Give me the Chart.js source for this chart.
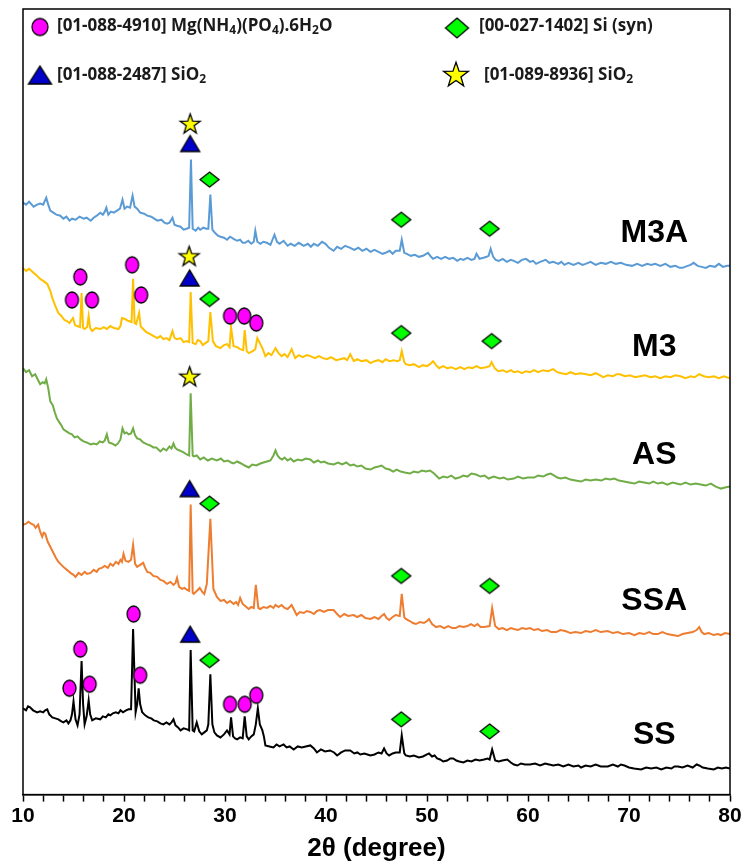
<!DOCTYPE html>
<html>
<head>
<meta charset="utf-8">
<script src="https://cdn.jsdelivr.net/npm/chart.js@4.4.1/dist/chart.umd.min.js"></script>
<style>
  body { margin: 0; background: #fff; }
  #wrap { width: 744px; height: 868px; }
</style>
</head>
<body>
<div id="wrap"><canvas id="xrd"></canvas></div>
<script>
// [2-theta, offset intensity (a.u.)] for each sample
const m3aPattern = [[10,590],[10.3,588],[10.6,591],[11.05,586],[11.4,588],[11.7,589],[12.0,588],[12.3,595],[12.5,588],[12.7,582],[13.0,580],[13.3,578],[13.7,577],[14.0,574],[14.3,576],[14.6,572],[14.85,574],[15.2,573],[15.6,576],[16.0,574],[16.3,575],[16.7,572],[17.0,575],[17.3,577],[17.65,580],[17.9,578],[18.1,581],[18.25,585],[18.45,578],[18.7,581],[19.0,580],[19.3,582],[19.6,584],[19.85,593],[20.05,584],[20.3,586],[20.6,585],[20.85,597],[21.05,586],[21.3,584],[21.6,580],[22.0,579],[22.3,577],[22.7,576],[23.0,574],[23.3,572],[23.7,573],[24.0,570],[24.25,569],[24.5,570],[24.8,575],[25.0,568],[25.25,567],[25.6,566],[25.9,563],[26.2,564],[26.45,565],[26.63,633],[26.8,564],[27.1,562],[27.35,565],[27.55,563],[27.85,565],[28.15,564],[28.35,564],[28.55,598],[28.75,563],[29.0,560],[29.3,557],[29.55,556],[29.9,555],[30.2,553],[30.5,556],[30.85,554],[31.2,552],[31.5,553],[31.75,550],[32.0,550],[32.3,552],[32.6,549],[32.85,551],[33.0,562],[33.2,551],[33.5,549],[33.8,551],[34.15,550],[34.5,548],[34.9,558],[35.15,551],[35.4,549],[35.8,552],[36.2,547],[36.5,549],[36.9,547],[37.3,550],[37.8,547],[38.2,549],[38.5,546],[38.8,549],[39.2,547],[39.6,551],[39.95,549],[40.3,545],[40.75,542],[41.1,546],[41.5,544],[41.9,547],[42.4,545],[42.8,543],[43.2,545],[43.6,542],[44.0,544],[44.4,541],[44.8,543],[45.2,541],[45.6,539],[45.9,540],[46.3,542],[46.6,539],[46.9,542],[47.3,542],[47.5,553],[47.75,540],[48.0,539],[48.4,537],[48.8,538],[49.2,536],[49.6,537],[50.1,540],[50.4,536],[50.6,534],[51.0,536],[51.4,534],[51.8,536],[52.2,534],[52.6,535],[53.0,532],[53.3,534],[53.6,533],[54.0,535],[54.4,533],[54.7,534],[54.9,539],[55.2,534],[55.6,535],[55.9,536],[56.1,537],[56.3,544],[56.55,536],[56.8,533],[57.1,532],[57.5,534],[57.9,531],[58.3,533],[58.6,532],[59.0,530],[59.4,533],[59.8,534],[60.2,531],[60.5,532],[60.8,529],[61.2,531],[61.75,533],[62.1,530],[62.5,531],[63.0,529],[63.3,531],[63.6,528],[64.0,530],[64.5,528],[65.0,530],[65.4,528],[65.7,529],[66.2,531],[66.7,528],[67.2,530],[67.7,529],[68.2,531],[68.7,529],[69.2,530],[69.7,528],[70.3,527],[70.8,529],[71.3,527],[71.8,529],[72.2,528],[72.6,529],[73.1,527],[73.6,529],[74.1,526],[74.6,527],[75.0,525],[75.3,525],[75.8,527],[76.1,528],[76.4,530],[76.8,527],[77.2,526],[77.6,525],[78.0,527],[78.5,526],[78.9,529],[79.3,526],[79.7,527],[80,527]];

const m3Pattern = [[10,525],[10.3,522],[10.6,524],[11.05,520],[11.3,518],[11.7,514],[12.0,512],[12.4,509],[12.7,502],[12.9,495],[13.2,487],[13.5,480],[13.8,477],[14.1,473],[14.35,472],[14.6,470],[14.95,475],[15.15,468],[15.35,467],[15.65,466],[15.8,500],[15.95,465],[16.1,464],[16.35,466],[16.5,477],[16.65,465],[16.85,462],[17.2,465],[17.65,464],[18.0,466],[18.3,464],[18.65,467],[19.0,465],[19.45,464],[19.65,467],[19.8,475],[20.1,474],[20.45,472],[20.75,471],[20.9,514],[21.05,470],[21.2,469],[21.5,480],[21.65,467],[21.8,465],[22.2,461],[22.6,459],[22.95,457],[23.3,455],[23.6,457],[23.9,454],[24.2,455],[24.5,453],[24.8,462],[25.0,455],[25.25,454],[25.6,455],[25.9,451],[26.2,452],[26.45,451],[26.6,501],[26.8,450],[27.1,449],[27.3,453],[27.55,452],[27.8,448],[28.05,450],[28.35,452],[28.55,481],[28.8,452],[29.1,447],[29.55,445],[29.9,448],[30.2,449],[30.45,446],[30.6,466],[30.85,447],[31.2,446],[31.5,444],[31.8,443],[31.95,463],[32.15,442],[32.35,440],[32.75,442],[33.0,444],[33.2,455],[33.45,450],[33.7,445],[34.0,437],[34.3,440],[34.6,438],[35.0,445],[35.3,440],[35.6,437],[35.9,439],[36.2,436],[36.6,444],[36.95,435],[37.3,438],[37.7,436],[38.1,438],[38.45,437],[38.9,435],[39.3,437],[39.7,435],[40.1,434],[40.5,436],[41.0,433],[41.4,434],[41.8,435],[42.1,433],[42.4,439],[42.75,432],[43.1,434],[43.5,432],[44.0,433],[44.4,430],[44.8,432],[45.2,433],[45.6,431],[45.9,434],[46.3,432],[46.7,433],[47.05,432],[47.3,433],[47.5,442],[47.75,431],[47.9,429],[48.3,428],[48.7,429],[49.2,426],[49.6,428],[50.0,427],[50.3,429],[50.6,432],[50.9,428],[51.2,425],[51.6,427],[52.0,425],[52.4,426],[52.85,424],[53.3,426],[53.7,424],[54.1,426],[54.5,425],[54.9,427],[55.3,425],[55.85,426],[56.2,427],[56.4,431],[56.7,425],[57.05,422],[57.5,423],[57.9,421],[58.3,423],[58.6,421],[59.0,422],[59.4,420],[59.8,422],[60.2,421],[60.6,423],[61.0,421],[61.5,423],[62.0,422],[62.5,424],[62.9,421],[63.3,420],[63.8,419],[64.2,421],[64.7,419],[65.2,420],[65.75,419],[66.2,418],[66.7,420],[67.1,418],[67.45,416],[67.9,418],[68.4,417],[68.8,419],[69.1,419],[69.6,417],[70.1,418],[70.6,416],[71.1,417],[71.6,418],[72.1,416],[72.6,417],[73.1,415],[73.6,417],[74.1,416],[74.6,418],[75.1,417],[75.6,415],[76.1,417],[76.5,416],[76.95,419],[77.4,417],[77.9,416],[78.4,417],[78.9,415],[79.4,417],[80,415]];

const asPattern = [[10,425],[10.3,421],[10.6,423],[10.9,417],[11.2,419],[11.5,413],[11.7,409],[11.95,411],[12.15,410],[12.3,414],[12.5,405],[12.7,392],[12.95,388],[13.15,381],[13.35,375],[13.6,371],[13.8,368],[14.0,364],[14.3,362],[14.6,360],[14.85,359],[15.1,356],[15.4,357],[15.7,354],[16.0,352],[16.3,351],[16.7,349],[17.0,350],[17.3,349],[17.6,352],[17.9,351],[18.1,353],[18.3,359],[18.5,351],[18.8,350],[19.15,348],[19.4,350],[19.65,354],[19.85,365],[20.05,360],[20.25,361],[20.45,359],[20.7,360],[20.9,365],[21.1,358],[21.3,355],[21.6,354],[21.9,351],[22.3,349],[22.6,348],[22.9,346],[23.2,346],[23.6,342],[23.9,345],[24.2,343],[24.5,347],[24.7,345],[24.9,350],[25.05,346],[25.25,344],[25.5,343],[25.9,341],[26.2,339],[26.45,338],[26.6,400],[26.8,338],[26.9,337],[27.2,338],[27.55,334],[27.9,336],[28.3,333],[28.7,335],[29.2,333],[29.6,335],[29.9,332],[30.3,333],[30.6,331],[30.85,330],[31.2,332],[31.6,330],[31.95,328],[32.35,326],[32.7,329],[33.1,328],[33.5,330],[33.8,331],[34.15,332],[34.5,333],[34.8,338],[35.0,343],[35.2,338],[35.45,335],[35.65,334],[35.9,336],[36.2,333],[36.5,335],[36.8,332],[37.2,334],[37.6,333],[38.0,335],[38.45,334],[38.8,331],[39.2,333],[39.5,331],[39.8,332],[40.2,330],[40.75,329],[41.2,331],[41.6,329],[42.0,331],[42.4,328],[42.75,329],[43.1,327],[43.5,328],[43.9,325],[44.4,324],[44.8,326],[45.2,327],[45.5,328],[45.9,325],[46.3,324],[46.65,322],[47.0,324],[47.4,322],[47.8,321],[48.3,320],[48.7,322],[49.1,321],[49.5,323],[49.9,322],[50.3,323],[50.7,320],[51.0,317],[51.2,315],[51.6,317],[52.0,316],[52.4,318],[52.8,315],[53.2,316],[53.6,318],[54.0,317],[54.4,320],[54.85,319],[55.3,317],[55.7,318],[56.1,315],[56.6,317],[57.2,315],[57.6,316],[58.0,314],[58.6,315],[59.0,317],[59.5,315],[60.0,316],[60.6,316],[61.0,318],[61.5,317],[61.9,319],[62.25,320],[62.6,318],[62.9,316],[63.25,315],[63.7,316],[64.2,314],[64.7,313],[65.25,312],[65.7,314],[66.2,313],[66.7,314],[67.25,313],[67.7,315],[68.1,314],[68.55,315],[69.0,313],[69.5,312],[70.0,311],[70.55,310],[71.0,312],[71.5,311],[72.0,310],[72.4,312],[72.85,310],[73.3,311],[73.8,309],[74.3,311],[74.7,310],[75.1,309],[75.6,311],[76.1,309],[76.6,310],[77.1,309],[77.6,308],[78.1,310],[78.6,307],[79.1,305],[79.5,306],[80,307]];

const ssaPattern = [[10,269],[10.3,270],[10.55,272],[10.8,270],[11.05,269],[11.25,266],[11.5,269],[11.7,262],[11.9,257],[12.05,261],[12.2,260],[12.45,252],[12.7,247],[13.0,241],[13.25,236],[13.5,232],[13.8,229],[14.1,226],[14.35,224],[14.7,221],[15.0,219],[15.2,217],[15.5,221],[15.8,219],[16.1,222],[16.35,220],[16.7,221],[17.0,224],[17.3,222],[17.5,225],[17.8,226],[18.1,228],[18.4,226],[18.65,230],[18.9,228],[19.2,232],[19.45,230],[19.65,234],[19.8,232],[19.95,240],[20.15,233],[20.45,232],[20.7,234],[20.9,249],[21.1,230],[21.3,227],[21.6,229],[21.9,231],[22.1,226],[22.3,222],[22.6,221],[22.9,218],[23.3,217],[23.6,214],[23.9,213],[24.25,210],[24.6,212],[24.9,209],[25.1,211],[25.25,216],[25.45,207],[25.75,205],[26.0,206],[26.25,204],[26.45,203],[26.6,289],[26.8,201],[26.9,200],[27.2,203],[27.5,206],[27.75,202],[27.95,200],[28.2,210],[28.55,275],[28.85,205],[29.2,197],[29.55,193],[29.9,194],[30.2,191],[30.5,193],[30.85,190],[31.1,192],[31.3,189],[31.5,196],[31.75,190],[32.0,188],[32.35,185],[32.6,187],[32.85,186],[33.05,209],[33.3,186],[33.5,185],[33.8,187],[34.15,186],[34.5,188],[34.8,186],[35.0,189],[35.3,187],[35.6,189],[35.9,186],[36.2,185],[36.6,189],[36.85,184],[37.1,179],[37.4,182],[37.8,181],[38.1,183],[38.45,182],[38.8,180],[39.1,183],[39.4,184],[39.8,182],[40.2,184],[40.75,184],[41.1,180],[41.4,177],[41.8,180],[42.2,178],[42.75,179],[43.1,177],[43.5,179],[43.9,176],[44.4,175],[44.8,177],[45.2,175],[45.5,178],[45.75,180],[46.0,176],[46.25,174],[46.6,177],[46.9,179],[47.3,178],[47.5,200],[47.75,177],[47.9,175],[48.3,173],[48.6,171],[48.9,170],[49.3,172],[49.7,171],[50.0,173],[50.2,175],[50.5,170],[50.9,167],[51.3,168],[51.7,166],[52.1,168],[52.5,166],[52.85,166],[53.2,168],[53.6,167],[54.0,168],[54.35,170],[54.7,168],[55.0,170],[55.3,167],[55.65,167],[56.2,168],[56.45,186],[56.75,168],[57.1,165],[57.5,166],[57.9,164],[58.3,166],[58.6,165],[59.0,164],[59.4,166],[59.8,165],[60.2,166],[60.6,164],[61.0,165],[61.4,163],[61.9,164],[62.3,162],[62.8,162],[63.2,164],[63.7,163],[64.2,161],[64.7,162],[65.25,161],[65.7,163],[66.2,162],[66.7,164],[67.2,162],[67.9,163],[68.4,161],[68.9,162],[69.4,160],[70.0,161],[70.55,159],[71.0,161],[71.5,160],[72.0,162],[72.4,160],[72.85,160],[73.3,162],[73.8,160],[74.3,159],[74.85,158],[75.3,160],[75.8,161],[76.3,162],[76.7,164],[76.95,167],[77.2,162],[77.45,160],[77.9,161],[78.4,159],[78.8,160],[79.1,159],[79.5,161],[80,160]];

const ssPattern = [[10,86],[10.3,84],[10.5,88],[10.7,87],[11.0,84],[11.4,82],[11.7,83],[12.0,82],[12.2,84],[12.4,85],[12.6,80],[12.9,77],[13.2,76],[13.5,75],[13.8,73],[14.0,72],[14.3,74],[14.5,71],[14.7,74],[14.85,80],[15.0,93],[15.2,75],[15.4,69],[15.6,80],[15.8,133],[15.95,90],[16.1,70],[16.3,78],[16.5,94],[16.65,80],[16.85,74],[17.2,76],[17.65,75],[17.9,78],[18.2,77],[18.45,80],[18.65,79],[18.9,81],[19.2,82],[19.45,81],[19.65,84],[19.9,82],[20.2,84],[20.45,85],[20.7,85],[20.9,165],[21.15,82],[21.3,90],[21.45,106],[21.6,90],[21.8,82],[22.1,79],[22.4,77],[22.7,76],[22.95,74],[23.3,73],[23.6,71],[23.9,70],[24.2,72],[24.5,70],[24.7,72],[24.9,75],[25.1,69],[25.35,67],[25.6,64],[25.9,66],[26.25,65],[26.45,64],[26.6,144],[26.8,64],[26.95,63],[27.2,72],[27.45,63],[27.7,60],[27.95,62],[28.2,64],[28.35,70],[28.55,120],[28.75,70],[28.95,62],[29.2,59],[29.55,57],[29.9,60],[30.2,64],[30.45,60],[30.6,77],[30.8,58],[31.0,56],[31.2,55],[31.5,57],[31.75,56],[31.95,78],[32.15,58],[32.35,55],[32.6,58],[32.85,60],[33.05,70],[33.25,86],[33.45,70],[33.7,64],[33.85,58],[34.0,49],[34.4,48],[34.8,47],[35.1,50],[35.4,48],[35.8,50],[36.1,47],[36.4,48],[36.8,45],[37.2,48],[37.6,47],[38.0,48],[38.45,49],[38.8,46],[39.1,42],[39.5,45],[39.9,43],[40.4,44],[40.8,42],[41.1,39],[41.5,42],[41.9,44],[42.4,44],[42.8,41],[43.1,42],[43.4,40],[43.8,41],[44.1,40],[44.4,39],[44.8,40],[45.2,42],[45.5,41],[45.75,46],[46.0,41],[46.25,39],[46.6,41],[46.9,42],[47.3,42],[47.5,59],[47.75,41],[47.9,39],[48.3,38],[48.7,39],[49.2,37],[49.6,38],[50.0,40],[50.2,41],[50.5,38],[50.75,39],[51.0,36],[51.3,35],[51.6,33],[52.0,34],[52.3,36],[52.6,36],[52.9,34],[53.2,33],[53.6,32],[54.0,34],[54.4,33],[54.8,35],[55.2,34],[55.65,35],[56.0,36],[56.2,35],[56.45,45],[56.75,34],[57.1,33],[57.45,34],[57.95,35],[58.3,32],[58.6,30],[58.95,29],[59.3,31],[59.7,30],[60.2,30],[60.7,31],[61.2,29],[61.7,31],[62.1,30],[62.5,29],[63.0,30],[63.5,28],[64.0,30],[64.5,28],[65.0,29],[65.25,27],[65.7,29],[66.2,28],[66.7,30],[67.2,28],[67.9,28],[68.4,30],[68.9,28],[69.2,30],[69.55,29],[70.0,27],[70.5,26],[71.2,25],[71.7,27],[72.2,26],[72.7,27],[73.2,25],[73.7,27],[74.2,26],[74.5,28],[74.85,28],[75.3,27],[75.8,29],[76.3,27],[76.7,30],[76.95,29],[77.3,27],[77.8,26],[78.4,25],[78.8,27],[79.2,26],[79.6,27],[80,26]];

// reference-pattern markers (2-theta, height in the same a.u.)
const circleTheta = [15.67, 14.85, 16.83, 20.8, 21.7, 30.5, 31.9, 33.1, 20.95, 15.67, 14.6, 16.6, 21.6, 30.5, 31.95, 33.1];
const circleLevel = [516, 493, 493, 528, 498, 477, 477, 470, 180, 145, 106, 110, 119, 90, 90, 99];
const triangleTheta = [26.55, 26.5, 26.5, 26.55];
const triangleLevel = [649, 515, 305, 160];
const diamondTheta = [28.47, 47.45, 56.2, 28.47, 47.45, 56.4, 28.47, 47.45, 56.2, 28.47, 47.45, 56.2];
const diamondLevel = [613, 573, 564, 494, 460, 452, 290, 218, 208, 134, 75, 63];
const starTheta = [26.55, 26.45, 26.5];
const starLevel = [669, 537, 417];

const sampleNames = ['M3A', 'M3', 'AS', 'SSA', 'SS'];
const sampleLevel = [560, 446, 338, 193, 59];
const sampleColors = ['#5B9BD5', '#FFC000', '#70AD47', '#ED7D31', '#000000'];

const legendLabels = ['[01-088-4910] Mg(NH_4)(PO_4).6H_2O', '[01-088-2487] SiO_2', '[00-027-1402] Si (syn)', '[01-089-8936] SiO_2'];

function makeMarker(kind, w, h, fill) {
    const c = document.createElement('canvas');
    c.width = w + 4;
    c.height = h + 4;
    const g = c.getContext('2d');
    g.translate(c.width / 2, c.height / 2);
    g.beginPath();
    if (kind === 'ellipse') {
        g.ellipse(0, 0, w / 2, h / 2, 0, 0, Math.PI * 2);
    } else if (kind === 'triangle') {
        g.moveTo(0, -h / 2); g.lineTo(w / 2, h / 2); g.lineTo(-w / 2, h / 2); g.closePath();
    } else if (kind === 'diamond') {
        g.moveTo(0, -h / 2); g.lineTo(w / 2, 0); g.lineTo(0, h / 2); g.lineTo(-w / 2, 0); g.closePath();
    } else {
        // five-point star
        for (let i = 0; i < 10; i++) {
            const r = i % 2 ? w * 0.2 : w / 2;
            const a = -Math.PI / 2 + i * Math.PI / 5;
            const px = r * Math.cos(a), py = r * Math.sin(a) + h * 0.05;
            i ? g.lineTo(px, py) : g.moveTo(px, py);
        }
        g.closePath();
    }
    g.fillStyle = fill;
    g.fill();
    g.lineWidth = 1.3;
    g.strokeStyle = '#000';
    g.stroke();
    return c;
}

const circleImg = makeMarker('ellipse', 13, 16, '#FF00FF');
const triImg = makeMarker('triangle', 19, 16, '#0000C8');
const diaImg = makeMarker('diamond', 19, 15, '#00FF00');
const starImg = makeMarker('star', 21, 21, '#FFFF00');

const legendImgs = [
    makeMarker('ellipse', 16, 17, '#FF00FF'),
    makeMarker('triangle', 23, 18, '#0000C8'),
    makeMarker('diamond', 23, 20, '#00FF00'),
    makeMarker('star', 26, 26, '#FFFF00')
];

function toPoints(xs, ys) {
    return xs.map((x, i) => ({ x: x, y: ys[i] }));
}

const traces = [m3aPattern, m3Pattern, asPattern, ssaPattern, ssPattern].map((p, i) => ({
    label: sampleNames[i],
    data: p.map(d => ({ x: d[0], y: d[1] })),
    showLine: true,
    borderColor: sampleColors[i],
    borderWidth: 2,
    pointRadius: 0,
    tension: 0,
    order: 2
}));

const markers = [
    [circleTheta, circleLevel, circleImg],
    [triangleTheta, triangleLevel, triImg],
    [diamondTheta, diamondLevel, diaImg],
    [starTheta, starLevel, starImg]
].map(m => ({
    data: toPoints(m[0], m[1]),
    showLine: false,
    pointStyle: m[2],
    pointRadius: 8,
    clip: false,
    order: 0
}));

// draws the box around the plot
const framePlugin = {
    id: 'frame',
    afterDraw(chart) {
        const { ctx, chartArea: a } = chart;
        ctx.save();
        ctx.strokeStyle = '#000';
        ctx.lineWidth = 1.5;
        ctx.strokeRect(a.left, a.top, a.right - a.left, a.bottom - a.top);
        ctx.restore();
    }
};

// text with subscripts written as _n
function drawRich(ctx, text, x, y) {
    const parts = text.split(/_(\d)/);
    parts.forEach((p, i) => {
        if (i % 2) {
            ctx.font = 'bold 12px "Open Sans"';
            ctx.fillText(p, x, y + 5);
        } else {
            ctx.font = 'bold 17px "Open Sans"';
            ctx.fillText(p, x, y);
        }
        x += ctx.measureText(p).width;
    });
}

const legendPlugin = {
    id: 'refLegend',
    afterDraw(chart) {
        const { ctx } = chart;
        const spots = [
            { mx: 40, my: 27, tx: 57, ty: 26 },
            { mx: 40, my: 75, tx: 57, ty: 75 },
            { mx: 457, my: 28, tx: 479, ty: 26 },
            { mx: 456, my: 74, tx: 484, ty: 75 }
        ];
        ctx.save();
        ctx.fillStyle = '#1a1a1a';
        ctx.textBaseline = 'middle';
        spots.forEach((s, i) => {
            const img = legendImgs[i];
            ctx.drawImage(img, s.mx - img.width / 2, s.my - img.height / 2);
            drawRich(ctx, legendLabels[i], s.tx, s.ty);
        });
        ctx.restore();
    }
};

const namePlugin = {
    id: 'sampleNames',
    afterDatasetsDraw(chart) {
        const { ctx, scales } = chart;
        ctx.save();
        ctx.fillStyle = '#000';
        ctx.font = 'bold 32px "Liberation Sans", Arial, sans-serif';
        ctx.textAlign = 'center';
        ctx.textBaseline = 'middle';
        sampleNames.forEach((n, i) => {
            ctx.fillText(n, scales.x.getPixelForValue(72.5), scales.y.getPixelForValue(sampleLevel[i]));
        });
        ctx.restore();
    }
};

new Chart(document.getElementById('xrd'), {
    type: 'scatter',
    data: { datasets: markers.concat(traces) },
    options: {
        responsive: true,
        maintainAspectRatio: false,
        animation: false,
        layout: { padding: { left: 23, right: 14, top: 9, bottom: 2 } },
        plugins: {
            legend: { display: false },
            tooltip: { enabled: false }
        },
        scales: {
            x: {
                type: 'linear',
                min: 10,
                max: 80,
                border: { display: true, color: '#000', width: 1.5 },
                grid: { drawOnChartArea: false, drawTicks: true, tickLength: 7, tickColor: '#000', tickWidth: 1.5 },
                ticks: {
                    stepSize: 2,
                    autoSkip: false,
                    maxRotation: 0,
                    padding: 2,
                    color: '#000',
                    font: { family: '"Liberation Sans", Arial, sans-serif', size: 21, weight: 'bold' },
                    callback: v => (v % 10 === 0 ? String(v) : '')
                },
                title: {
                    display: true,
                    text: '2θ (degree)',
                    color: '#000',
                    font: { family: '"Liberation Sans", Arial, sans-serif', size: 26, weight: 'bold' },
                    padding: { top: 2, bottom: 2 }
                }
            },
            y: { display: false, min: 0, max: 783 }
        }
    },
    plugins: [framePlugin, legendPlugin, namePlugin]
});
</script>
</body>
</html>
